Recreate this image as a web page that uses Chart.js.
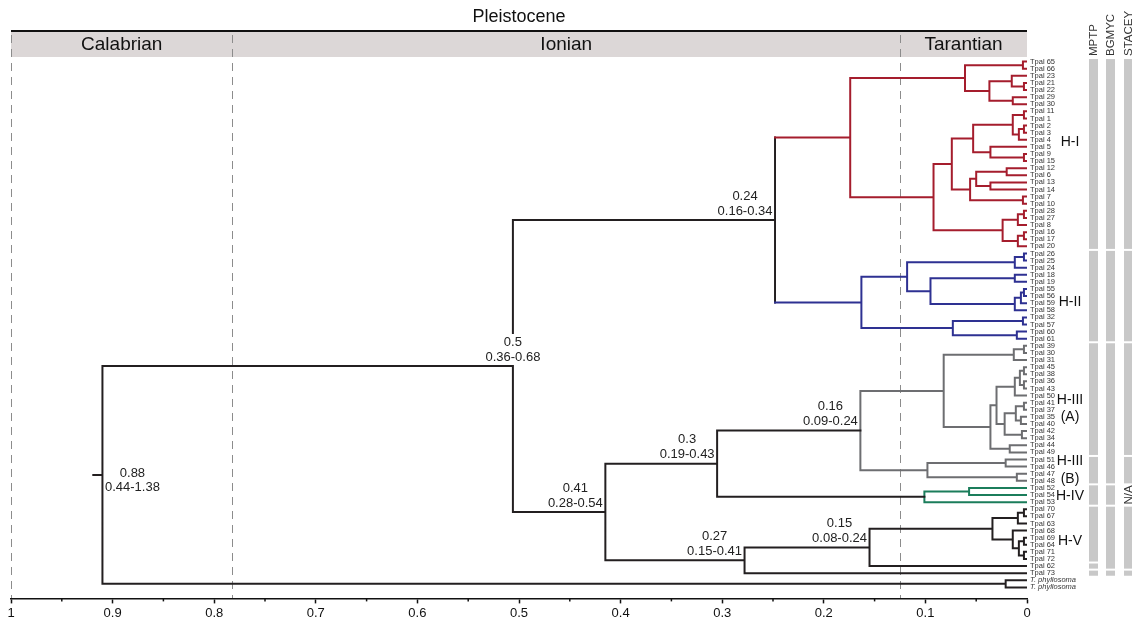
<!DOCTYPE html>
<html>
<head>
<meta charset="utf-8">
<script src="https://cdn.jsdelivr.net/npm/chart.js@4.4.1/dist/chart.umd.min.js"></script>
<style>
  body { margin: 0; background: #fff; }
  #wrap { width: 1132px; height: 623px; position: relative; }
</style>
</head>
<body>
<div id="wrap"><canvas id="tree"></canvas></div>
<script>
// leaves, top to bottom
const leafNames = [
  'Tpal 65','Tpal 66','Tpal 23','Tpal 21','Tpal 22','Tpal 29','Tpal 30','Tpal 11','Tpal 1','Tpal 2',
  'Tpal 3','Tpal 4','Tpal 5','Tpal 9','Tpal 15','Tpal 12','Tpal 6','Tpal 13','Tpal 14','Tpal 7',
  'Tpal 10','Tpal 28','Tpal 27','Tpal 8','Tpal 16','Tpal 17','Tpal 20',
  'Tpal 26','Tpal 25','Tpal 24','Tpal 18','Tpal 19','Tpal 55','Tpal 56','Tpal 59','Tpal 58',
  'Tpal 32','Tpal 57','Tpal 60','Tpal 61',
  'Tpal 39','Tpal 30','Tpal 31','Tpal 45','Tpal 38','Tpal 36','Tpal 43','Tpal 50','Tpal 41','Tpal 37',
  'Tpal 35','Tpal 40','Tpal 42','Tpal 34','Tpal 44','Tpal 49',
  'Tpal 51','Tpal 46','Tpal 47','Tpal 48',
  'Tpal 52','Tpal 54','Tpal 53',
  'Tpal 70','Tpal 67','Tpal 63','Tpal 68','Tpal 69','Tpal 64','Tpal 71','Tpal 72',
  'Tpal 62','Tpal 73','T. phyllosoma','T. phyllosoma'
];

// node id, left child, right child, age (Ma) - numbers are leaf indexes
const merges = [
  ['a1', 0, 1, 0.004], ['a2', 3, 4, 0.003], ['a3', 2, 'a2', 0.015], ['a4', 5, 6, 0.014],
  ['a5', 'a3', 'a4', 0.037], ['a6', 'a1', 'a5', 0.061],
  ['a7', 7, 8, 0.003], ['a8', 9, 10, 0.003], ['a9', 'a8', 11, 0.008], ['a10', 'a7', 'a9', 0.014],
  ['a11', 13, 14, 0.003], ['a12', 12, 'a11', 0.036], ['a13', 'a10', 'a12', 0.053],
  ['a14', 15, 16, 0.020], ['a15', 17, 18, 0.036], ['a16', 'a14', 'a15', 0.050],
  ['a17', 19, 20, 0.004], ['a18', 'a16', 'a17', 0.056], ['a19', 'a13', 'a18', 0.074],
  ['a20', 21, 22, 0.003], ['a21', 'a20', 23, 0.009], ['a22', 24, 25, 0.003], ['a23', 'a22', 26, 0.009],
  ['a24', 'a21', 'a23', 0.024], ['a25', 'a19', 'a24', 0.092], ['HI', 'a6', 'a25', 0.174],
  ['b1', 27, 28, 0.003], ['b2', 'b1', 29, 0.012], ['b3', 30, 31, 0.012],
  ['b4', 32, 33, 0.003], ['b5', 'b4', 34, 0.006], ['b6', 'b5', 35, 0.012],
  ['b7', 'b3', 'b6', 0.095], ['b8', 'b2', 'b7', 0.118],
  ['b9', 36, 37, 0.004], ['b10', 38, 39, 0.010], ['b11', 'b9', 'b10', 0.073],
  ['HII', 'b8', 'b11', 0.163],
  ['n1', 'HI', 'HII', 0.248],
  ['c1', 40, 41, 0.003], ['c2', 'c1', 42, 0.013],
  ['c3', 43, 44, 0.003], ['c4', 45, 46, 0.003], ['c5', 'c3', 'c4', 0.007], ['c6', 'c5', 47, 0.012],
  ['c7', 48, 49, 0.003], ['c8', 50, 51, 0.006], ['c9', 'c7', 'c8', 0.011],
  ['c10', 52, 53, 0.005], ['c11', 'c9', 'c10', 0.022], ['c12', 'c6', 'c11', 0.030],
  ['c13', 54, 55, 0.017], ['c14', 'c12', 'c13', 0.036], ['HIIIA', 'c2', 'c14', 0.082],
  ['d1', 56, 57, 0.021], ['d2', 58, 59, 0.010], ['HIIIB', 'd1', 'd2', 0.098],
  ['n2', 'HIIIA', 'HIIIB', 0.164],
  ['e1', 60, 61, 0.057], ['HIV', 'e1', 62, 0.101],
  ['n3', 'n2', 'HIV', 0.305],
  ['f1', 63, 64, 0.003], ['f2', 'f1', 65, 0.009], ['f3', 67, 68, 0.003], ['f4', 69, 70, 0.003],
  ['f5', 'f3', 'f4', 0.008], ['f6', 66, 'f5', 0.014], ['HV', 'f2', 'f6', 0.034],
  ['n4', 'HV', 71, 0.155], ['n5', 'n4', 72, 0.278],
  ['n6', 'n3', 'n5', 0.415], ['n7', 'n1', 'n6', 0.506],
  ['o1', 73, 74, 0.021], ['root', 'n7', 'o1', 0.910]
];
const rootStub = 0.919;

// node age labels: mean and 95% HPD
const labelNodes = ['root', 'n7', 'n1', 'n6', 'n3', 'n2', 'n5', 'n4'];
const labelMeans = ['0.88', '0.5', '0.24', '0.41', '0.3', '0.16', '0.27', '0.15'];
const labelRanges = ['0.44-1.38', '0.36-0.68', '0.16-0.34', '0.28-0.54', '0.19-0.43', '0.09-0.24', '0.15-0.41', '0.08-0.24'];

// geologic time
const epochName = 'Pleistocene';
const stageNames = ['Calabrian', 'Ionian', 'Tarantian'];
const stageBounds = [1.0, 0.782, 0.125, 0];

// axis
const tickValues = [1, 0.9, 0.8, 0.7, 0.6, 0.5, 0.4, 0.3, 0.2, 0.1, 0];
const tickLabels = ['1', '0.9', '0.8', '0.7', '0.6', '0.5', '0.4', '0.3', '0.2', '0.1', '0'];

// clade names (text, leaf row where it sits)
const cladeText = ['H-I', 'H-II', 'H-III', '(A)', 'H-III', '(B)', 'H-IV', 'H-V'];
const cladeRow = [11.4, 33.9, 47.7, 50.0, 56.2, 58.7, 61.1, 67.5];

// species delimitation methods, groups as [first leaf, last leaf]
const methodNames = ['MPTP', 'BGMYC', 'STACEY'];
const mptpGroups = [[0, 26], [27, 39], [40, 55], [56, 59], [60, 62], [63, 70], [71, 71], [72, 72]];
const bgmycGroups = [[0, 26], [27, 39], [40, 59], [60, 62], [63, 71], [72, 72]];
const staceyGroups = [[0, 26], [27, 39], [40, 55], [56, 59], [63, 71], [72, 72]];
const staceyNA = [60, 62];

// colours
const BLACK = '#231f20';
const cladeColor = { HI: '#a51d2d', HII: '#2e3192', n2: '#6d6e71', HIV: '#1b7d5b' };
const stemColor = { n2: BLACK, HIV: BLACK };

const FONT = '"Liberation Sans", Arial, sans-serif';

// build the tree
const nodes = {};
leafNames.forEach(function(name, i) { nodes[i] = { h: 0, y: i }; });
merges.forEach(function(m) {
  nodes[m[0]] = { h: m[3], y: (nodes[m[1]].y + nodes[m[2]].y) / 2, l: m[1], r: m[2] };
});

function paint(id, color) {
  const n = nodes[id];
  n.color = cladeColor[id] || color;
  n.stem = stemColor[id] || n.color;
  if (n.l !== undefined) {
    paint(n.l, n.color);
    paint(n.r, n.color);
  }
}
paint('root', BLACK);

const segByColor = {};
function addSeg(color, x1, y1, x2, y2) {
  if (!segByColor[color]) segByColor[color] = [];
  segByColor[color].push({ x: x1, y: y1 }, { x: x2, y: y2 }, { x: x2, y: null });
}
merges.forEach(function(m) {
  const n = nodes[m[0]];
  addSeg(n.color, n.h, nodes[m[1]].y, n.h, nodes[m[2]].y);
  [m[1], m[2]].forEach(function(c) {
    addSeg(nodes[c].stem, nodes[c].h, nodes[c].y, n.h, nodes[c].y);
  });
});
addSeg(BLACK, nodes.root.h, nodes.root.y, rootStub, nodes.root.y);

const datasets = Object.keys(segByColor).map(function(color) {
  return {
    data: segByColor[color],
    borderColor: color,
    borderWidth: 2,
    borderCapStyle: 'square',
    pointRadius: 0,
    spanGaps: false,
    tension: 0
  };
});

function isMajor(v) {
  return Math.abs(v * 10 - Math.round(v * 10)) < 1e-6;
}

// decorations: time band, dashed boundaries, labels and delimitation bars
const decor = {
  id: 'decor',
  beforeDatasetsDraw(chart) {
    const ctx = chart.ctx;
    const x = chart.scales.x;
    const L = x.getPixelForValue(1), R = x.getPixelForValue(0);
    ctx.save();
    ctx.fillStyle = '#dcd7d7';
    ctx.fillRect(L, 32, R - L, 25);
    ctx.strokeStyle = '#111';
    ctx.lineWidth = 2;
    ctx.beginPath(); ctx.moveTo(L, 31); ctx.lineTo(R, 31); ctx.stroke();

    ctx.fillStyle = '#111';
    ctx.textAlign = 'center';
    ctx.textBaseline = 'middle';
    ctx.font = '18px ' + FONT;
    ctx.fillText(epochName, (L + R) / 2, 17);
    ctx.font = '19px ' + FONT;
    stageNames.forEach(function(s, i) {
      const a = x.getPixelForValue(stageBounds[i]), b = x.getPixelForValue(stageBounds[i + 1]);
      ctx.fillText(s, (a + b) / 2, 45);
    });

    ctx.strokeStyle = '#8c8c8c';
    ctx.lineWidth = 1;
    ctx.setLineDash([8, 6]);
    stageBounds.slice(0, -1).forEach(function(b) {
      const px = Math.round(x.getPixelForValue(b)) + 0.5;
      ctx.beginPath(); ctx.moveTo(px, 35); ctx.lineTo(px, 598); ctx.stroke();
    });
    ctx.setLineDash([]);

    // minor ticks
    ctx.strokeStyle = '#111';
    ctx.lineWidth = 1.5;
    for (let v = 0.05; v < 1; v += 0.1) {
      const px = x.getPixelForValue(v);
      ctx.beginPath(); ctx.moveTo(px, chart.chartArea.bottom); ctx.lineTo(px, chart.chartArea.bottom + 3); ctx.stroke();
    }
    ctx.restore();
  },
  afterDatasetsDraw(chart) {
    const ctx = chart.ctx;
    const x = chart.scales.x, y = chart.scales.y;
    const x0 = x.getPixelForValue(0);
    ctx.save();

    // leaf names
    ctx.fillStyle = '#333';
    ctx.textAlign = 'left';
    ctx.textBaseline = 'middle';
    leafNames.forEach(function(name, i) {
      ctx.font = (name.indexOf('T.') === 0 ? 'italic ' : '') + '7.5px ' + FONT;
      ctx.fillText(name, x0 + 3, y.getPixelForValue(i));
    });

    // node ages
    ctx.font = '13px ' + FONT;
    ctx.textAlign = 'center';
    labelNodes.forEach(function(id, i) {
      const n = nodes[id];
      const px = x.getPixelForValue(n.h), py = y.getPixelForValue(n.y);
      ctx.fillStyle = '#222';
      if (id === 'root') {
        ctx.fillText(labelMeans[i], px + 30, py - 1);
        ctx.fillText(labelRanges[i], px + 30, py + 13);
      } else if (id === 'n7') {
        const w = ctx.measureText(labelRanges[i]).width;
        ctx.fillStyle = '#fff';
        ctx.fillRect(px - w / 2 - 1, py - 32, w + 2, 31);
        ctx.fillStyle = '#222';
        ctx.fillText(labelMeans[i], px, py - 24);
        ctx.fillText(labelRanges[i], px, py - 9);
      } else {
        ctx.fillText(labelMeans[i], px - 30, py - 24);
        ctx.fillText(labelRanges[i], px - 30, py - 9);
      }
    });

    // clade names
    ctx.fillStyle = '#111';
    ctx.font = '14px ' + FONT;
    cladeText.forEach(function(t, i) {
      ctx.fillText(t, 1070, y.getPixelForValue(cladeRow[i]));
    });

    // delimitation columns
    const colX = [1089, 1106, 1124];
    const colGroups = [mptpGroups, bgmycGroups, staceyGroups];
    ctx.fillStyle = '#c8c8c8';
    colGroups.forEach(function(groups, c) {
      groups.forEach(function(g) {
        const top = y.getPixelForValue(g[0] - 0.36), bot = y.getPixelForValue(g[1] + 0.36);
        ctx.fillRect(colX[c], top, 9, bot - top);
      });
    });
    ctx.fillStyle = '#333';
    ctx.font = '11.5px ' + FONT;
    ctx.textAlign = 'left';
    methodNames.forEach(function(m, c) {
      ctx.save();
      ctx.translate(colX[c] + 4.5, 56);
      ctx.rotate(-Math.PI / 2);
      ctx.fillText(m, 0, 0);
      ctx.restore();
    });
    ctx.save();
    ctx.translate(colX[2] + 4.5, y.getPixelForValue((staceyNA[0] + staceyNA[1]) / 2));
    ctx.rotate(-Math.PI / 2);
    ctx.textAlign = 'center';
    ctx.fillText('N/A', 0, 0);
    ctx.restore();

    ctx.restore();
  }
};

document.addEventListener('DOMContentLoaded', function() {
  Chart.defaults.font.family = FONT;
  new Chart(document.getElementById('tree'), {
    type: 'line',
    data: { datasets: datasets },
    options: {
      responsive: true,
      maintainAspectRatio: false,
      animation: false,
      parsing: true,
      layout: { padding: { top: 32, left: 11, right: 105, bottom: 0 } },
      plugins: { legend: { display: false }, tooltip: { enabled: false } },
      scales: {
        x: {
          type: 'linear',
          reverse: true,
          min: 0,
          max: 1,
          border: { display: true, color: '#111', width: 1.5 },
          grid: {
            drawOnChartArea: false,
            drawTicks: true,
            tickLength: 5,
            tickWidth: 1.5,
            tickColor: function(ctx) { return ctx.tick && isMajor(ctx.tick.value) ? '#111' : 'rgba(0,0,0,0)'; }
          },
          ticks: {
            stepSize: 0.05,
            autoSkip: false,
            maxRotation: 0,
            padding: 2,
            color: '#111',
            font: { size: 13 },
            callback: function(v) {
              const i = tickValues.findIndex(function(t) { return Math.abs(t - v) < 1e-6; });
              return i >= 0 ? tickLabels[i] : '';
            }
          }
        },
        y: {
          type: 'linear',
          display: false,
          reverse: true,
          min: -4.168,
          max: 75.55
        }
      }
    },
    plugins: [decor]
  });
});
</script>
</body>
</html>
